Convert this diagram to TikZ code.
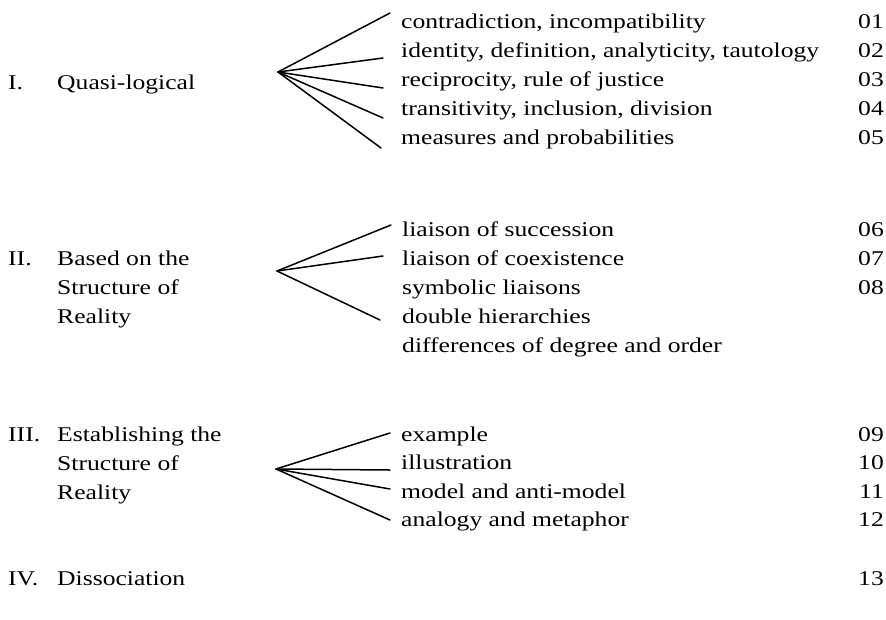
\documentclass[tikz,border=0pt]{standalone}
\usepackage{fontspec}
\setmainfont{Liberation Serif}[FakeStretch=1.22]
\begin{document}
\begin{tikzpicture}[x=1pt,y=-1pt,
  txt/.style={anchor=base west,inner sep=0pt,font=\fontsize{21}{25}\selectfont},
  num/.style={anchor=base east,inner sep=0pt,font=\fontsize{21}{25}\selectfont},
  fan/.style={line width=1.5pt,line cap=round}]
\useasboundingbox (0,0) rectangle (886,619);
% left labels
\node[txt] (n1) at (8,89) {I.};
\node[txt] (h1) at (57,89) {Quasi-logical};
\node[txt] (n2) at (8,265) {II.};
\node[txt] (h2a) at (57,265) {Based on the};
\node[txt] (h2b) at (57,294) {Structure of};
\node[txt] (h2c) at (57,323) {Reality};
\node[txt] (n3) at (8,441) {III.};
\node[txt] (h3a) at (57,441) {Establishing the};
\node[txt] (h3b) at (57,470) {Structure of};
\node[txt] (h3c) at (57,499) {Reality};
\node[txt] (n4) at (8,585) {IV.};
\node[txt] (h4) at (57,585) {Dissociation};
% right items
\node[txt] (a1) at (401,28) {contradiction, incompatibility};
\node[txt] (a2) at (401,57) {identity, definition, analyticity, tautology};
\node[txt] (a3) at (401,86) {reciprocity, rule of justice};
\node[txt] (a4) at (401,115) {transitivity, inclusion, division};
\node[txt] (a5) at (401,144) {measures and probabilities};
\node[txt] (b1) at (402,236) {liaison of succession};
\node[txt] (b2) at (402,265) {liaison of coexistence};
\node[txt] (b3) at (402,294) {symbolic liaisons};
\node[txt] (b4) at (402,323) {double hierarchies};
\node[txt] (b5) at (402,352) {differences of degree and order};
\node[txt] (c1) at (401,441) {example};
\node[txt] (c2) at (401,469) {illustration};
\node[txt] (c3) at (401,498) {model and anti-model};
\node[txt] (c4) at (401,526) {analogy and metaphor};
% numbers
\node[num] (r01) at (884,28) {01};
\node[num] (r02) at (884,57) {02};
\node[num] (r03) at (884,86) {03};
\node[num] (r04) at (884,115) {04};
\node[num] (r05) at (884,144) {05};
\node[num] (r06) at (884,236) {06};
\node[num] (r07) at (884,265) {07};
\node[num] (r08) at (884,294) {08};
\node[num] (r09) at (884,441) {09};
\node[num] (r10) at (884,469) {10};
\node[num] (r11) at (884,498) {11};
\node[num] (r12) at (884,526) {12};
\node[num] (r13) at (884,585) {13};
% fans
\coordinate (p1) at (278,72);
\coordinate (e11) at (390,13);
\coordinate (e12) at (383,58);
\coordinate (e13) at (383,88);
\coordinate (e14) at (383,118);
\coordinate (e15) at (381,148);
\foreach \e in {e11,e12,e13,e14,e15} \draw[fan] (p1) -- (\e);
\coordinate (p2) at (277,271);
\coordinate (e21) at (391,225);
\coordinate (e22) at (383,256);
\coordinate (e23) at (380,320);
\foreach \e in {e21,e22,e23} \draw[fan] (p2) -- (\e);
\coordinate (p3) at (276,469);
\coordinate (e31) at (390,433);
\coordinate (e32) at (390,470);
\coordinate (e33) at (390,489);
\coordinate (e34) at (390,520);
\foreach \e in {e31,e32,e33,e34} \draw[fan] (p3) -- (\e);
\end{tikzpicture}
\end{document}
